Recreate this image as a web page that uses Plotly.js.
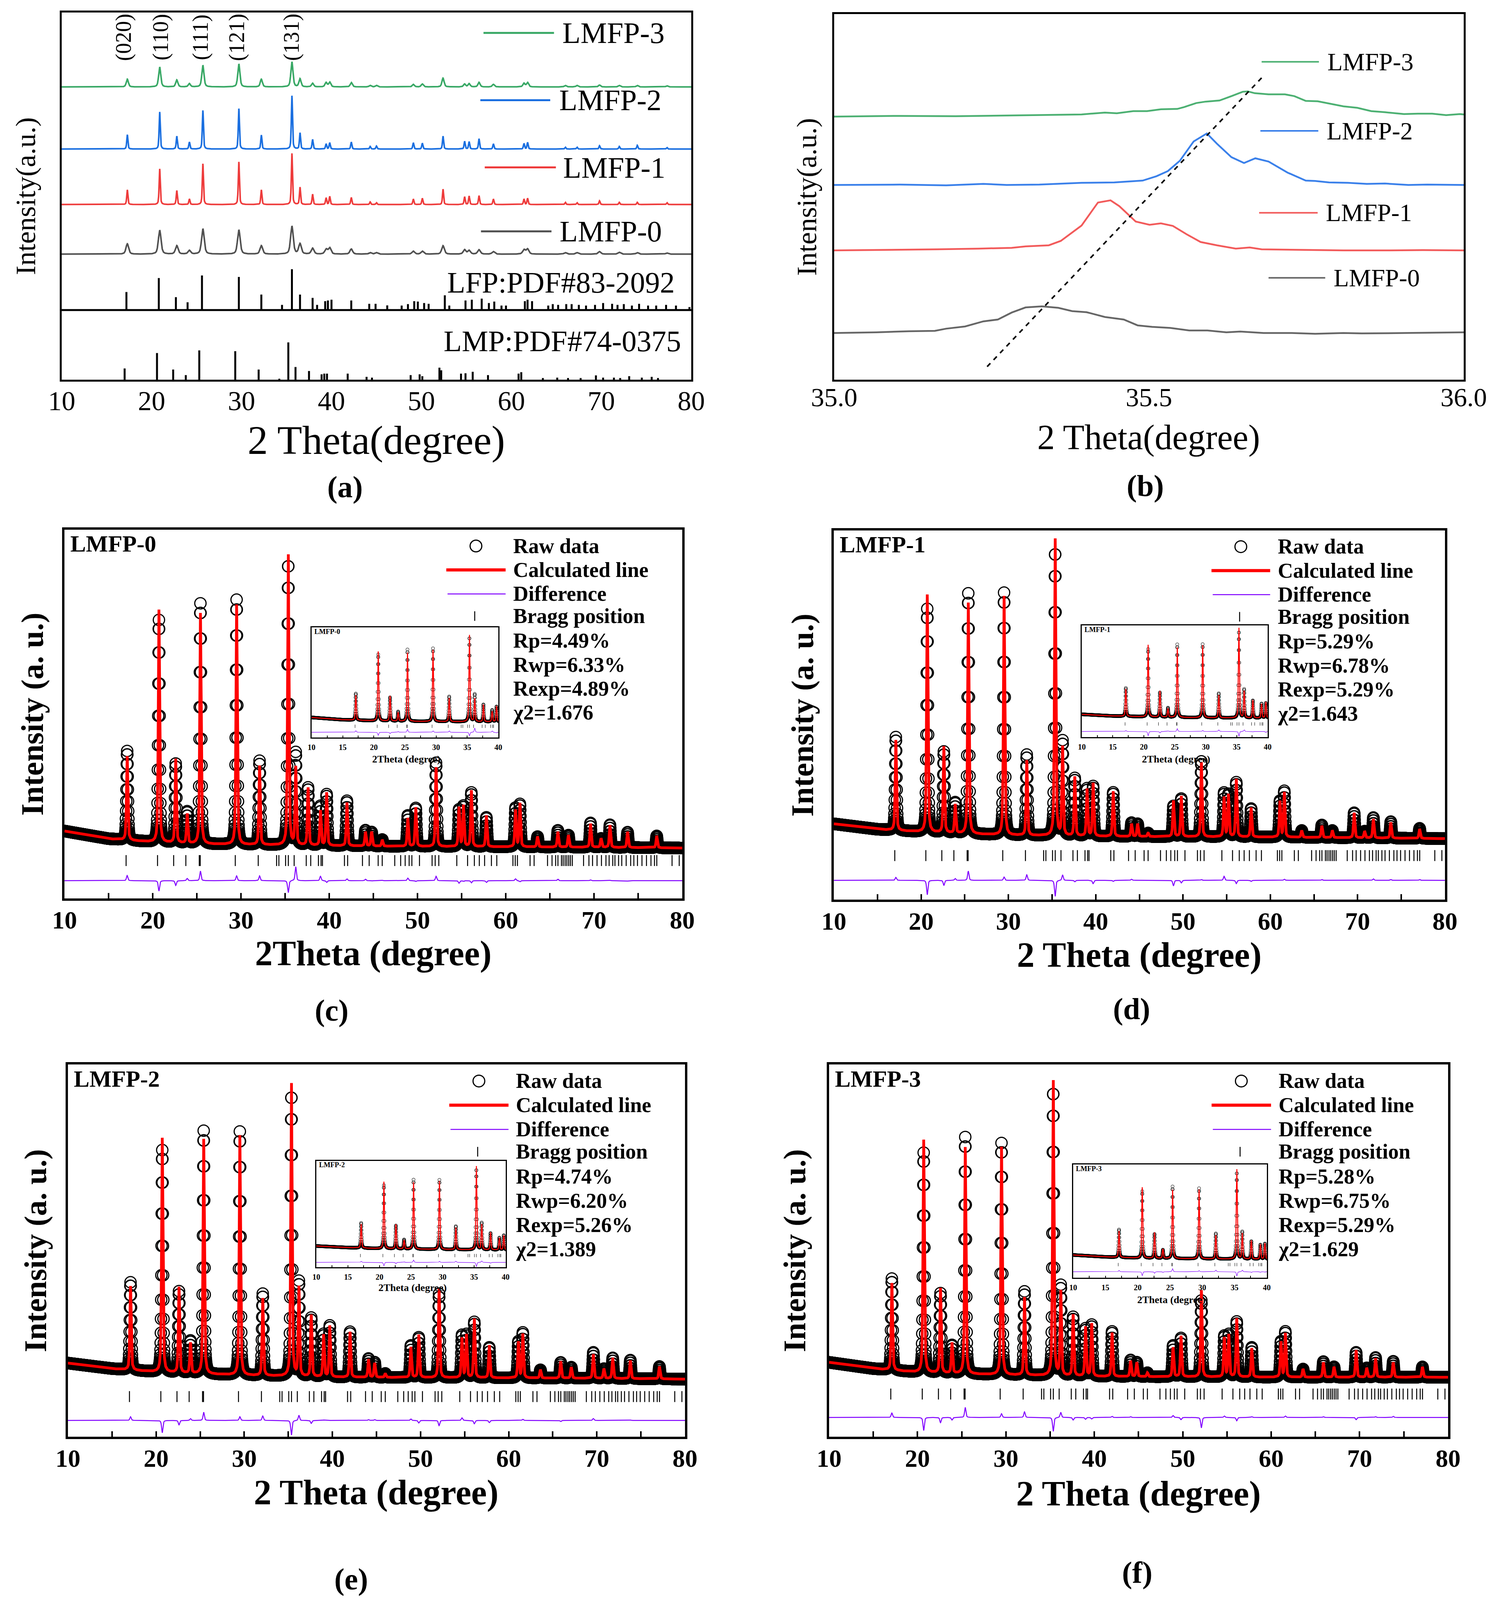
<!DOCTYPE html>
<html><head><meta charset="utf-8">
<script src="https://cdn.plot.ly/plotly-3.0.1.min.js"></script>
<style>html,body{margin:0;padding:0;background:#fff;overflow:hidden}</style>
</head><body>
<div id="chart" style="width:3823px"></div>
<script>
// ---------------- DATA ----------------
const SAMPLES = ['LMFP-0', 'LMFP-1', 'LMFP-2', 'LMFP-3'];

// (a) stacked patterns: peak positions and heights above each baseline
const A_PEAK_POS = [17.3, 20.9, 22.8, 24.2, 25.7, 29.7, 32.2, 35.6, 36.5, 37.9, 39.4, 39.8, 42.2, 44.3, 45.0, 49.1, 50.1, 52.4, 54.8, 55.3, 56.4, 58.0, 61.4, 61.8, 66.0, 67.3, 69.8, 72.0, 74.0, 77.3];
const A_H_LMFP0 = [0.028, 0.065, 0.023, 0.010, 0.069, 0.066, 0.023, 0.076, 0.028, 0.016, 0.013, 0.017, 0.014, 0.004, 0.004, 0.008, 0.008, 0.023, 0.012, 0.010, 0.012, 0.007, 0.012, 0.014, 0.004, 0.004, 0.007, 0.005, 0.004, 0.003];
const A_H_LMFP1 = [0.040, 0.097, 0.038, 0.015, 0.111, 0.116, 0.040, 0.139, 0.047, 0.028, 0.018, 0.022, 0.019, 0.007, 0.005, 0.015, 0.017, 0.042, 0.021, 0.023, 0.024, 0.015, 0.015, 0.017, 0.006, 0.005, 0.010, 0.006, 0.006, 0.005];
const A_H_LMFP2 = [0.039, 0.101, 0.035, 0.019, 0.105, 0.110, 0.038, 0.145, 0.044, 0.026, 0.014, 0.017, 0.019, 0.007, 0.008, 0.017, 0.016, 0.035, 0.021, 0.020, 0.028, 0.014, 0.015, 0.018, 0.005, 0.005, 0.009, 0.007, 0.010, 0.004];
const A_H_LMFP3 = [0.021, 0.054, 0.019, 0.009, 0.059, 0.0625, 0.021, 0.068, 0.022, 0.010, 0.012, 0.013, 0.012, 0.004, 0.004, 0.007, 0.008, 0.024, 0.008, 0.009, 0.0125, 0.007, 0.010, 0.012, 0.004, 0.004, 0.005, 0.004, 0.004, 0.003];
const A_BASELINES = [0.342, 0.477, 0.628, 0.797];

const LFP_POS = [17.2, 20.8, 22.7, 24.0, 25.6, 29.7, 32.2, 34.5, 35.6, 36.5, 37.9, 38.4, 39.3, 39.6, 40.0, 42.2, 44.2, 44.9, 46.2, 47.8, 48.5, 49.2, 49.6, 50.3, 50.8, 52.6, 53.1, 54.9, 55.6, 56.7, 57.5, 58.1, 58.9, 59.4, 61.5, 61.8, 62.3, 64.1, 64.6, 65.2, 66.1, 66.7, 67.5, 68.3, 69.3, 70.2, 71.2, 71.8, 72.5, 73.4, 74.2, 75.2, 76.1, 77.2, 78.3, 79.8];
const LFP_H = [0.049, 0.087, 0.035, 0.021, 0.094, 0.090, 0.042, 0.014, 0.111, 0.042, 0.033, 0.014, 0.024, 0.026, 0.028, 0.026, 0.017, 0.017, 0.0125, 0.012, 0.016, 0.024, 0.023, 0.019, 0.017, 0.040, 0.012, 0.026, 0.028, 0.031, 0.019, 0.023, 0.012, 0.012, 0.024, 0.028, 0.024, 0.012, 0.016, 0.014, 0.016, 0.016, 0.014, 0.012, 0.014, 0.019, 0.017, 0.014, 0.016, 0.012, 0.017, 0.012, 0.012, 0.014, 0.012, 0.008];
const LMP_POS = [17.0, 20.6, 22.4, 23.8, 25.3, 29.3, 31.9, 34.2, 35.2, 36.0, 37.5, 38.9, 39.2, 39.5, 41.8, 43.9, 44.5, 48.8, 49.8, 50.1, 52.0, 52.2, 54.4, 54.9, 55.7, 57.4, 60.8, 61.1, 63.5, 65.1, 66.3, 67.7, 69.4, 70.2, 71.4, 72.1, 73.1, 74.5, 75.6, 76.3];
const LMP_H = [0.031, 0.073, 0.028, 0.013, 0.080, 0.078, 0.028, 0.003, 0.102, 0.035, 0.024, 0.015, 0.017, 0.017, 0.017, 0.008, 0.006, 0.013, 0.015, 0.010, 0.033, 0.026, 0.017, 0.018, 0.022, 0.013, 0.017, 0.021, 0.005, 0.006, 0.005, 0.005, 0.012, 0.006, 0.006, 0.005, 0.010, 0.006, 0.008, 0.005];
const HKL_LABELS = ['(020)', '(110)', '(111)', '(121)', '(131)'];
const HKL_POS = [16.9, 21.0, 25.45, 29.5, 35.56];

// (b) zoom on the (131) peak
const B0_X = [35.0, 35.067, 35.119, 35.160, 35.178, 35.208, 35.237, 35.260, 35.282, 35.304, 35.330, 35.356, 35.378, 35.401, 35.430, 35.460, 35.482, 35.505, 35.534, 35.564, 35.593, 35.623, 35.645, 35.682, 35.727, 35.764, 35.809, 35.838, 35.905, 36.0];
const B0_Y = [0.128, 0.130, 0.133, 0.134, 0.140, 0.146, 0.160, 0.165, 0.184, 0.198, 0.201, 0.197, 0.188, 0.185, 0.172, 0.165, 0.149, 0.145, 0.142, 0.135, 0.135, 0.130, 0.132, 0.128, 0.128, 0.126, 0.128, 0.127, 0.128, 0.130];
const B1_X = [35.0, 35.074, 35.163, 35.230, 35.282, 35.304, 35.341, 35.360, 35.393, 35.419, 35.439, 35.453, 35.479, 35.501, 35.519, 35.538, 35.560, 35.582, 35.608, 35.638, 35.660, 35.679, 35.735, 35.809, 35.883, 35.935, 36.0];
const B1_Y = [0.354, 0.355, 0.357, 0.359, 0.361, 0.365, 0.368, 0.380, 0.422, 0.485, 0.491, 0.475, 0.433, 0.424, 0.428, 0.421, 0.398, 0.377, 0.368, 0.359, 0.362, 0.357, 0.356, 0.354, 0.354, 0.355, 0.354];
const B2_X = [35.0, 35.104, 35.178, 35.237, 35.274, 35.326, 35.393, 35.445, 35.490, 35.512, 35.530, 35.549, 35.571, 35.592, 35.608, 35.631, 35.651, 35.669, 35.690, 35.720, 35.749, 35.764, 35.786, 35.816, 35.846, 35.875, 35.912, 35.942, 36.0];
const B2_Y = [0.533, 0.534, 0.532, 0.536, 0.533, 0.534, 0.539, 0.540, 0.545, 0.557, 0.571, 0.599, 0.652, 0.674, 0.646, 0.609, 0.593, 0.606, 0.597, 0.567, 0.545, 0.544, 0.540, 0.539, 0.536, 0.537, 0.533, 0.534, 0.533];
const B3_X = [35.0, 35.104, 35.193, 35.267, 35.326, 35.393, 35.430, 35.449, 35.475, 35.497, 35.519, 35.545, 35.556, 35.575, 35.590, 35.612, 35.631, 35.649, 35.657, 35.668, 35.690, 35.716, 35.731, 35.749, 35.768, 35.786, 35.809, 35.831, 35.853, 35.875, 35.905, 35.927, 35.950, 35.972, 35.994, 36.0];
const B3_Y = [0.720, 0.722, 0.721, 0.723, 0.724, 0.726, 0.731, 0.729, 0.735, 0.735, 0.740, 0.741, 0.746, 0.757, 0.761, 0.764, 0.776, 0.788, 0.789, 0.784, 0.781, 0.781, 0.776, 0.763, 0.762, 0.756, 0.748, 0.744, 0.735, 0.732, 0.727, 0.728, 0.728, 0.724, 0.727, 0.726];
const SHIFT_X = [35.243, 35.679];
const SHIFT_Y = [0.036, 0.826];

// (c)-(f) Rietveld refinements: peak positions and peak tops (calculated / observed)
const R_PEAK_POS = [17.1, 20.7, 22.6, 23.9, 25.4, 29.5, 32.1, 35.35, 36.2, 37.6, 39.0, 39.7, 42.0, 44.1, 44.8, 46.0, 48.9, 49.8, 52.1, 54.7, 55.2, 56.1, 57.8, 61.1, 61.6, 63.6, 65.9, 67.1, 69.6, 70.8, 71.8, 73.8, 77.1];
const C_CALC = [0.386, 0.783, 0.378, 0.229, 0.774, 0.797, 0.360, 0.940, 0.355, 0.300, 0.238, 0.287, 0.260, 0.181, 0.181, 0.159, 0.218, 0.247, 0.356, 0.247, 0.252, 0.293, 0.225, 0.240, 0.258, 0.168, 0.181, 0.172, 0.203, 0.163, 0.199, 0.181, 0.170];
const C_RAW  = [0.400, 0.755, 0.365, 0.235, 0.800, 0.810, 0.373, 0.907, 0.393, 0.300, 0.250, 0.282, 0.265, 0.185, 0.180, 0.160, 0.225, 0.245, 0.368, 0.240, 0.250, 0.287, 0.220, 0.245, 0.255, 0.168, 0.185, 0.172, 0.205, 0.163, 0.200, 0.180, 0.170];
const D_CALC = [0.432, 0.826, 0.414, 0.257, 0.804, 0.822, 0.377, 0.985, 0.412, 0.332, 0.299, 0.315, 0.293, 0.205, 0.205, 0.180, 0.268, 0.280, 0.372, 0.277, 0.284, 0.326, 0.249, 0.266, 0.290, 0.187, 0.200, 0.187, 0.235, 0.185, 0.218, 0.209, 0.191];
const D_RAW  = [0.440, 0.787, 0.400, 0.262, 0.829, 0.831, 0.392, 0.941, 0.427, 0.328, 0.300, 0.306, 0.290, 0.208, 0.205, 0.180, 0.253, 0.273, 0.374, 0.288, 0.284, 0.317, 0.246, 0.266, 0.293, 0.187, 0.202, 0.187, 0.235, 0.185, 0.222, 0.211, 0.193];
const E_CALC = [0.405, 0.803, 0.402, 0.252, 0.800, 0.810, 0.372, 0.957, 0.401, 0.327, 0.274, 0.298, 0.282, 0.208, 0.198, 0.170, 0.241, 0.274, 0.398, 0.265, 0.274, 0.317, 0.246, 0.255, 0.276, 0.180, 0.203, 0.187, 0.222, 0.183, 0.212, 0.205, 0.189];
const E_RAW  = [0.415, 0.770, 0.390, 0.257, 0.822, 0.820, 0.384, 0.917, 0.415, 0.319, 0.275, 0.298, 0.282, 0.210, 0.200, 0.170, 0.245, 0.267, 0.384, 0.272, 0.274, 0.308, 0.240, 0.255, 0.279, 0.180, 0.200, 0.187, 0.227, 0.183, 0.212, 0.206, 0.189];
const F_CALC = [0.413, 0.798, 0.399, 0.252, 0.778, 0.779, 0.375, 0.965, 0.390, 0.328, 0.295, 0.304, 0.280, 0.204, 0.200, 0.172, 0.240, 0.271, 0.394, 0.266, 0.274, 0.318, 0.238, 0.255, 0.278, 0.182, 0.200, 0.188, 0.233, 0.185, 0.211, 0.200, 0.188];
const F_RAW  = [0.425, 0.763, 0.385, 0.245, 0.805, 0.789, 0.390, 0.927, 0.404, 0.321, 0.290, 0.300, 0.283, 0.206, 0.200, 0.172, 0.245, 0.265, 0.366, 0.270, 0.274, 0.309, 0.240, 0.255, 0.282, 0.182, 0.202, 0.188, 0.227, 0.185, 0.213, 0.203, 0.188];
const BG_X = [10, 15, 20, 25, 30, 40, 50, 60, 70, 80];
const C_BG = [0.183, 0.162, 0.153, 0.148, 0.146, 0.143, 0.141, 0.140, 0.139, 0.137];
const D_BG = [0.205, 0.190, 0.183, 0.178, 0.174, 0.171, 0.170, 0.169, 0.167, 0.165];
const E_BG = [0.198, 0.183, 0.174, 0.169, 0.165, 0.160, 0.159, 0.158, 0.157, 0.155];
const F_BG = [0.200, 0.183, 0.173, 0.169, 0.166, 0.162, 0.161, 0.160, 0.160, 0.160];
const BRAGG_POS = [16.98, 20.54, 22.37, 23.75, 25.27, 25.38, 29.35, 31.95, 34.03, 34.29, 35.05, 35.36, 36.02, 37.39, 37.9, 38.77, 39.07, 39.23, 41.72, 42.08, 43.76, 44.52, 45.54, 46.0, 47.42, 48.09, 48.6, 49.05, 49.36, 50.22, 51.65, 52.0, 52.41, 54.45, 55.67, 56.44, 57.0, 57.6, 58.37, 58.98, 60.81, 61.07, 61.32, 62.75, 63.21, 64.73, 65.24, 65.65, 65.91, 66.31, 66.5, 66.72, 66.92, 67.13, 67.33, 67.54, 68.81, 69.42, 69.83, 70.34, 70.84, 71.35, 71.71, 72.12, 72.37, 72.78, 73.14, 73.64, 74.15, 74.51, 74.92, 75.43, 75.94, 76.45, 76.85, 77.11, 78.84, 79.65];
const RP   = ['4.49%', '5.29%', '4.74%', '5.28%'];
const RWP  = ['6.33%', '6.78%', '6.20%', '6.75%'];
const REXP = ['4.89%', '5.29%', '5.26%', '5.29%'];
const CHI2 = ['1.676', '1.643', '1.389', '1.629'];

// ---------------- HELPERS ----------------
const SERIF = 'Liberation Serif, Times New Roman, serif';
const W = 3823;
const H = Math.min(5176, window.innerHeight || 5176);   // fit the whole figure in the visible window
const R = H / 5176;
document.getElementById('chart').style.height = H + 'px';

function grid(x0, x1, step) { const n = Math.round((x1 - x0) / step); const o = []; for (let i = 0; i <= n; i++) o.push(+(x0 + i * step).toFixed(4)); return o; }
function pv(x, x0, w) { const t = (x - x0) / w; return 0.5 / (1 + 4 * t * t) + 0.5 * Math.exp(-2.7726 * t * t); }
function interp(x, kx, ky) { for (let i = 0; i < kx.length - 1; i++) { if (x <= kx[i + 1]) { const f = (x - kx[i]) / (kx[i + 1] - kx[i]); return ky[i] + f * (ky[i + 1] - ky[i]); } } return ky[ky.length - 1]; }
function stacked(xs, pos, h, base, w) { return xs.map(x => { let s = base; for (let i = 0; i < pos.length; i++) s += h[i] * pv(x, pos[i], w); return s; }); }
function refined(xs, pos, tops, bgY, w) {
  const h = pos.map((p, i) => tops[i] - interp(p, BG_X, bgY));
  return xs.map(x => { let s = interp(x, BG_X, bgY); for (let i = 0; i < pos.length; i++) s += h[i] * pv(x, pos[i], w); return s; });
}
function sticks(pos, h, base) { const x = [], y = []; pos.forEach((p, i) => { x.push(p, p, null); y.push(base, base + h[i], null); }); return { x, y }; }

// ---------------- LAYOUT GEOMETRY (fractions of the figure) ----------------
const DOM = {
  1: { x: [0.0413, 0.4630], y: [0.7626, 0.9923] },
  2: { x: [0.5587, 0.9804], y: [0.7626, 0.9911] },
  3: { x: [0.0432, 0.4570], y: [0.4384, 0.6689] },
  4: { x: [0.5585, 0.9678], y: [0.4378, 0.6685] },
  5: { x: [0.0455, 0.4588], y: [0.1020, 0.3346] },
  6: { x: [0.5553, 0.9699], y: [0.1020, 0.3346] },
  7: { x: [0.2087, 0.3338], y: [0.5390, 0.6078] },
  8: { x: [0.7246, 0.8491], y: [0.5392, 0.6092] },
  9: { x: [0.2119, 0.3387], y: [0.2081, 0.2745] },
  10: { x: [0.7188, 0.8485], y: [0.2015, 0.2722] }
};
const xa = n => n === 1 ? 'x' : 'x' + n;
const ya = n => n === 1 ? 'y' : 'y' + n;
const xd = n => xa(n) + ' domain';
const yd = n => ya(n) + ' domain';

const traces = [];
const annotations = [];
const shapes = [];
const layout = {
  width: W, height: H, margin: { l: 0, r: 0, t: 0, b: 0 },
  paper_bgcolor: '#ffffff', plot_bgcolor: 'rgba(0,0,0,0)', showlegend: false,
  font: { family: SERIF, color: '#000' }
};
function axes(n, xopt, yopt) {
  layout['xaxis' + (n === 1 ? '' : n)] = Object.assign({
    domain: DOM[n].x, anchor: ya(n), showline: true, mirror: true, linecolor: '#000',
    showgrid: false, zeroline: false, fixedrange: true, tickcolor: '#000'
  }, xopt);
  layout['yaxis' + (n === 1 ? '' : n)] = Object.assign({
    domain: DOM[n].y, anchor: xa(n), range: [0, 1], showline: true, mirror: true, linecolor: '#000',
    showgrid: false, zeroline: false, fixedrange: true, showticklabels: false, ticks: ''
  }, yopt);
}
function ann(o) { annotations.push(Object.assign({ showarrow: false, xanchor: 'center', yanchor: 'middle' }, o)); }

// ---------------- PANEL (a) ----------------
axes(1, { range: [10, 80], dtick: 10, tick0: 10, ticks: '', linewidth: 5, tickfont: { family: SERIF, size: 70, color: '#000' }, ticklabelstandoff: Math.round(2 - 63 * (1 - R)) }, { linewidth: 5 });
const A_COLORS = ['#505050', '#ee3b3b', '#1a6fe0', '#38a865'];
const A_H = [A_H_LMFP0, A_H_LMFP1, A_H_LMFP2, A_H_LMFP3];
const A_W = [0.35, 0.15, 0.15, 0.28];
const xsA = grid(10, 80, 0.02);
for (let k = 3; k >= 0; k--) {
  traces.push({ type: 'scatter', mode: 'lines', x: xsA, y: stacked(xsA, A_PEAK_POS, A_H[k], A_BASELINES[k], A_W[k]),
    xaxis: 'x', yaxis: 'y', line: { color: A_COLORS[k], width: 4 }, hoverinfo: 'skip' });
}
const sLFP = sticks(LFP_POS, LFP_H, 0.19);
traces.push({ type: 'scatter', mode: 'lines', x: sLFP.x, y: sLFP.y, xaxis: 'x', yaxis: 'y', line: { color: '#000', width: 5 }, connectgaps: false, hoverinfo: 'skip' });
const sLMP = sticks(LMP_POS, LMP_H, 0);
traces.push({ type: 'scatter', mode: 'lines', x: sLMP.x, y: sLMP.y, xaxis: 'x', yaxis: 'y', line: { color: '#000', width: 5 }, connectgaps: false, hoverinfo: 'skip' });
shapes.push({ type: 'line', xref: 'x domain', yref: 'y domain', x0: 0, x1: 1, y0: 0.19, y1: 0.19, line: { color: '#000', width: 5 } });
HKL_LABELS.forEach((t, i) => ann({ xref: 'x', yref: 'y domain', x: HKL_POS[i], y: 0.932, text: t, textangle: -90, font: { size: 56, family: SERIF } }));
const A_LEG = [ { y: 0.404, x0: 0.666, x1: 0.778, tx: 0.790 }, { y: 0.578, x0: 0.672, x1: 0.785, tx: 0.795 },
  { y: 0.761, x0: 0.665, x1: 0.776, tx: 0.789 }, { y: 0.944, x0: 0.670, x1: 0.782, tx: 0.794 } ];
A_LEG.forEach((g, k) => {
  shapes.push({ type: 'line', xref: 'x domain', yref: 'y domain', x0: g.x0, x1: g.x1, y0: g.y, y1: g.y, line: { color: A_COLORS[k], width: 5 } });
  ann({ xref: 'x domain', yref: 'y domain', x: g.tx, y: g.y, xanchor: 'left', text: SAMPLES[k], font: { size: 76, family: SERIF } });
});
ann({ xref: 'x domain', yref: 'y domain', x: 0.975, y: 0.265, xanchor: 'right', text: 'LFP:PDF#83-2092', font: { size: 76, family: SERIF } });
ann({ xref: 'x domain', yref: 'y domain', x: 0.985, y: 0.106, xanchor: 'right', text: 'LMP:PDF#74-0375', font: { size: 76, family: SERIF } });
ann({ xref: 'x domain', yref: 'y domain', x: 0.5, y: -0.164, text: '2 Theta(degree)', font: { size: 104, family: SERIF } });
ann({ xref: 'x domain', yref: 'y domain', x: -0.057, y: 0.5, textangle: -90, text: 'Intensity(a.u.)', font: { size: 72, family: SERIF } });

// ---------------- PANEL (b) ----------------
axes(2, { range: [35, 36], dtick: 0.5, tick0: 35, tickformat: '.1f', ticks: '', linewidth: 5, tickfont: { family: SERIF, size: 68, color: '#000' }, ticklabelstandoff: Math.round(-7 - 56 * (1 - R)) }, { linewidth: 5 });
const B_COLORS = ['#666666', '#f25a5a', '#3a80ea', '#4cb072'];
const BX = [B0_X, B1_X, B2_X, B3_X], BY = [B0_Y, B1_Y, B2_Y, B3_Y];
for (let k = 0; k < 4; k++) traces.push({ type: 'scatter', mode: 'lines', x: BX[k], y: BY[k], xaxis: 'x2', yaxis: 'y2', line: { color: B_COLORS[k], width: 4.5 }, hoverinfo: 'skip' });
traces.push({ type: 'scatter', mode: 'lines', x: SHIFT_X, y: SHIFT_Y, xaxis: 'x2', yaxis: 'y2', line: { color: '#000', width: 4, dash: 'dash' }, hoverinfo: 'skip' });
const B_LEG = [ { y: 0.279, x0: 0.690, x1: 0.780, tx: 0.792 }, { y: 0.457, x0: 0.675, x1: 0.768, tx: 0.780 },
  { y: 0.681, x0: 0.677, x1: 0.769, tx: 0.781 }, { y: 0.870, x0: 0.679, x1: 0.770, tx: 0.782 } ];
B_LEG.forEach((g, k) => {
  shapes.push({ type: 'line', xref: 'x2 domain', yref: 'y2 domain', x0: g.x0, x1: g.x1, y0: g.y, y1: g.y, line: { color: B_COLORS[k], width: 4 } });
  ann({ xref: 'x2 domain', yref: 'y2 domain', x: g.tx, y: g.y, xanchor: 'left', text: SAMPLES[k], font: { size: 64, family: SERIF } });
});
ann({ xref: 'x2 domain', yref: 'y2 domain', x: 0.5, y: -0.158, text: '2 Theta(degree)', font: { size: 90, family: SERIF } });
ann({ xref: 'x2 domain', yref: 'y2 domain', x: -0.043, y: 0.5, textangle: -90, text: 'Intensity(a.u.)', font: { size: 72, family: SERIF } });

// ---------------- PANELS (c)-(f) ----------------
const CALC = [C_CALC, D_CALC, E_CALC, F_CALC];
const RAW = [C_RAW, D_RAW, E_RAW, F_RAW];
const BGS = [C_BG, D_BG, E_BG, F_BG];
const STYLE = [
  { n: 3, ins: 7, bragg: 0.103, diff: 0.0485, xt: '2Theta (degree)', ytx: -0.052, xty: -0.149 },
  { n: 4, ins: 8, bragg: 0.119, diff: 0.052, xt: '2 Theta (degree)', ytx: -0.051, xty: -0.151 },
  { n: 5, ins: 9, bragg: 0.108, diff: 0.044, xt: '2 Theta (degree)', ytx: -0.052, xty: -0.150 },
  { n: 6, ins: 10, bragg: 0.115, diff: 0.052, xt: '2 Theta (degree)', ytx: -0.055, xty: -0.153 }
];
const xsR = grid(10, 80, 0.02);
const LEG_Y = [0.956, 0.891, 0.826, 0.766, 0.699, 0.634, 0.569, 0.504];
const LEG_FONT = Math.min(64, Math.floor(0.0645 * 0.2305 * H / 1.12));   // keep rows from touching
const BOLD = { family: SERIF, weight: 'bold', color: '#000' };
STYLE.forEach((s, k) => {
  const n = s.n, m = s.ins;
  axes(n, { range: [10, 80], dtick: 10, tick0: 10, ticks: 'inside', ticklen: 14, tickwidth: 4, linewidth: 6,
    minor: { ticks: 'inside', ticklen: 14, tickwidth: 4, dtick: 5, tick0: 10, tickcolor: '#000' },
    tickfont: Object.assign({ size: 64 }, BOLD), ticklabelstandoff: Math.round(6 - 57 * (1 - R)) }, { linewidth: 6 });
  axes(m, { range: [10, 40], dtick: 5, tick0: 10, ticks: 'inside', ticklen: 5, tickwidth: 2, linewidth: 3,
    minor: { ticks: 'inside', ticklen: 5, tickwidth: 2, dtick: 2.5, tick0: 10, tickcolor: '#000' },
    tickfont: Object.assign({ size: 20 }, BOLD), ticklabelstandoff: Math.round(11 - 27 * (1 - R)) }, { linewidth: 3 });
  const calcY = refined(xsR, R_PEAK_POS, CALC[k], BGS[k], 0.18);
  const rawY = refined(xsR, R_PEAK_POS, RAW[k], BGS[k], 0.18);
  const diffY = rawY.map((r, i) => s.diff + (r - calcY[i]));
  const braggY = BRAGG_POS.map(() => s.bragg);
  const cut = xsR.findIndex(x => x > 40.3);
  const xin = xsR.slice(0, cut);
  traces.push({ type: 'scatter', mode: 'markers', x: xsR, y: rawY, xaxis: xa(n), yaxis: ya(n),
    marker: { symbol: 'circle-open', size: 29, color: '#000', line: { width: 3 } }, hoverinfo: 'skip' });
  traces.push({ type: 'scatter', mode: 'lines', x: xsR, y: calcY, xaxis: xa(n), yaxis: ya(n), line: { color: '#ff0000', width: 7 }, hoverinfo: 'skip' });
  traces.push({ type: 'scatter', mode: 'lines', x: xsR, y: diffY, xaxis: xa(n), yaxis: ya(n), line: { color: '#8000ff', width: 2.5 }, hoverinfo: 'skip' });
  traces.push({ type: 'scatter', mode: 'markers', x: BRAGG_POS, y: braggY, xaxis: xa(n), yaxis: ya(n),
    marker: { symbol: 'line-ns-open', size: Math.round(25 * R), color: '#000', line: { width: 2.5 } }, hoverinfo: 'skip' });
  traces.push({ type: 'scatter', mode: 'markers', x: xin, y: rawY.slice(0, cut), xaxis: xa(m), yaxis: ya(m),
    marker: { symbol: 'circle-open', size: 8, color: '#000', line: { width: 1 } }, hoverinfo: 'skip' });
  traces.push({ type: 'scatter', mode: 'lines', x: xin, y: calcY.slice(0, cut), xaxis: xa(m), yaxis: ya(m), line: { color: '#ff0000', width: 2.5 }, hoverinfo: 'skip' });
  traces.push({ type: 'scatter', mode: 'lines', x: xin, y: diffY.slice(0, cut), xaxis: xa(m), yaxis: ya(m), line: { color: '#8000ff', width: 1.2 }, hoverinfo: 'skip' });
  traces.push({ type: 'scatter', mode: 'markers', x: BRAGG_POS, y: braggY, xaxis: xa(m), yaxis: ya(m),
    marker: { symbol: 'line-ns-open', size: Math.max(5, Math.round(8 * R)), color: '#000', line: { width: 1 } }, hoverinfo: 'skip' });

  shapes.push({ type: 'circle', xref: xd(n), yref: yd(n), xsizemode: 'pixel', ysizemode: 'pixel', xanchor: 0.666, yanchor: LEG_Y[0],
    x0: -15, x1: 15, y0: -15, y1: 15, line: { color: '#000', width: 3 } });
  shapes.push({ type: 'line', xref: xd(n), yref: yd(n), x0: 0.618, x1: 0.714, y0: LEG_Y[1], y1: LEG_Y[1], line: { color: '#ff0000', width: 8 } });
  shapes.push({ type: 'line', xref: xd(n), yref: yd(n), x0: 0.620, x1: 0.714, y0: LEG_Y[2], y1: LEG_Y[2], line: { color: '#8000ff', width: 2.5 } });
  shapes.push({ type: 'line', xref: xd(n), yref: yd(n), x0: 0.664, x1: 0.664, y0: LEG_Y[3] - 0.013, y1: LEG_Y[3] + 0.013, line: { color: '#000', width: 2.5 } });
  const texts = ['Raw data', 'Calculated line', 'Difference', 'Bragg position', 'Rp=' + RP[k], 'Rwp=' + RWP[k], 'Rexp=' + REXP[k], '\u03c72=' + CHI2[k]];
  texts.forEach((t, i) => ann({ xref: xd(n), yref: yd(n), x: 0.725, y: LEG_Y[i], xanchor: 'left', text: t, font: Object.assign({ size: LEG_FONT }, BOLD) }));
  ann({ xref: xd(n), yref: yd(n), x: 0.008, y: 0.962, xanchor: 'left', text: SAMPLES[k], font: Object.assign({ size: 60 }, BOLD) });
  ann({ xref: xd(n), yref: yd(n), x: 0.5, y: s.xty, text: s.xt, font: Object.assign({ size: 90 }, BOLD) });
  ann({ xref: xd(n), yref: yd(n), x: s.ytx, y: 0.5, textangle: -90, text: 'Intensity (a. u.)', font: Object.assign({ size: 80 }, BOLD) });
  ann({ xref: xd(m), yref: yd(m), x: 0.01, y: 0.962, xanchor: 'left', text: SAMPLES[k], font: Object.assign({ size: 18 }, BOLD) });
  ann({ xref: xd(m), yref: yd(m), x: 0.508, y: -0.195, text: '2Theta (degree)', font: Object.assign({ size: 26 }, BOLD) });
});

const LETTERS = ['(a)', '(b)', '(c)', '(d)', '(e)', '(f)'];
const LETTER_XY = [[0.231, 0.6957], [0.767, 0.6963], [0.2223, 0.3686], [0.758, 0.3694], [0.2352, 0.0131], [0.7617, 0.0172]];
LETTERS.forEach((t, i) => ann({ xref: 'paper', yref: 'paper', x: LETTER_XY[i][0], y: LETTER_XY[i][1], text: t, font: Object.assign({ size: 78 }, BOLD) }));

layout.annotations = annotations;
layout.shapes = shapes;
Plotly.newPlot('chart', traces, layout, { staticPlot: true, displayModeBar: false });
</script>
</body></html>
